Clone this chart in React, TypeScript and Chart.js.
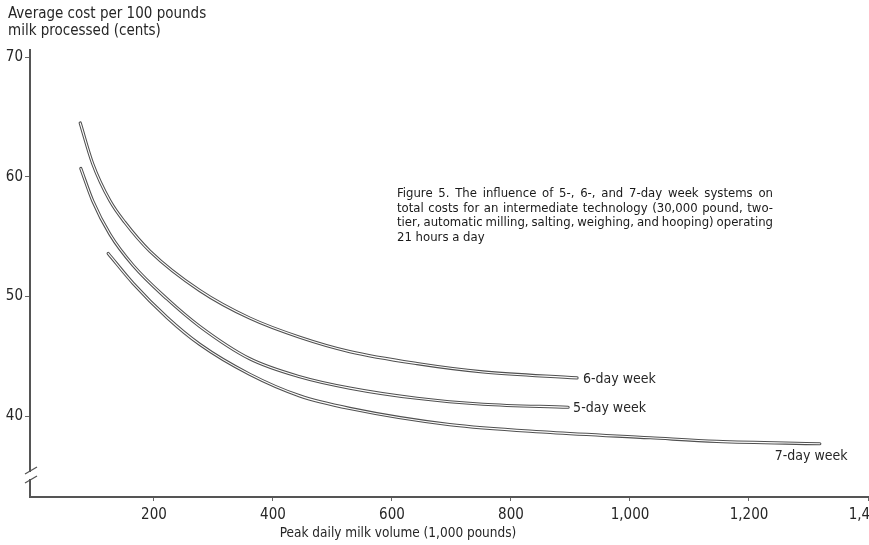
import React, { useEffect, useRef } from "react";
import { Chart, registerables } from "chart.js";
Chart.register(...registerables);

// Peak daily milk volume (1,000 pounds) and average cost (cents per 100 lb)
const volume6 = [76, 97, 126, 151, 193, 277, 361, 445, 529, 642, 753, 911];
const cost6 = [64.5, 61.1, 58.0, 56.2, 53.8, 50.5, 48.2, 46.6, 45.4, 44.4, 43.7, 43.2];

const volume5 = [77, 97, 126, 165, 222, 277, 361, 445, 529, 642, 753, 896];
const cost5 = [60.7, 58.0, 55.2, 52.6, 49.8, 47.5, 44.8, 43.3, 42.35, 41.5, 41.0, 40.75];

const volume7 = [123, 165, 222, 277, 361, 445, 529, 697, 866, 1034, 1146, 1319];
const cost7 = [53.6, 51.1, 48.25, 46.0, 43.5, 41.7, 40.65, 39.3, 38.65, 38.2, 37.9, 37.7];

const seriesLabels = ["6-day week", "5-day week", "7-day week"];
const xTicks = [200, 400, 600, 800, 1000, 1200, 1400];
const yTicks = [40, 50, 60, 70];

const yTitle = ["Average cost per 100 pounds", "milk processed (cents)"];
const xTitle = "Peak daily milk volume (1,000 pounds)";
const figureText = [
  "Figure 5. The influence of 5-, 6-, and 7-day week systems on",
  "total costs for an intermediate technology (30,000 pound, two-",
  "tier, automatic milling, salting, weighing, and hooping) operating",
  "21 hours a day",
];

const FONT = "'Liberation Sans Narrow', 'DejaVu Sans Condensed', 'Roboto Condensed', sans-serif";
const TEXT = "#262626";

export default function App() {
  const ref = useRef<HTMLCanvasElement>(null);

  useEffect(() => {
    const canvas = ref.current;
    if (!canvas) return;
    const toPts = (xs: number[], ys: number[]) => xs.map((x, i) => ({ x, y: ys[i] }));
    const series = [
      { label: seriesLabels[0], data: toPts(volume6, cost6) },
      { label: seriesLabels[1], data: toPts(volume5, cost5) },
      { label: seriesLabels[2], data: toPts(volume7, cost7) },
    ];
    const datasets: any[] = [];
    series.forEach((s) => {
      datasets.push({
        label: s.label,
        data: s.data,
        borderColor: "#505050",
        borderWidth: 3.2,
        pointRadius: 0,
        cubicInterpolationMode: "monotone",
        borderCapStyle: "round",
        order: 2,
      });
      datasets.push({
        label: s.label + " inner",
        data: s.data,
        borderColor: "#ffffff",
        borderWidth: 1.1,
        pointRadius: 0,
        cubicInterpolationMode: "monotone",
        borderCapStyle: "round",
        order: 1,
      });
    });

    const justify = (ctx: any, text: string, x: number, y: number, width: number) => {
      const words = text.split(" ");
      const wordsW = words.reduce((a, w) => a + ctx.measureText(w).width, 0);
      const gap = (width - wordsW) / (words.length - 1);
      let cx = x;
      words.forEach((w) => {
        ctx.fillText(w, cx, y);
        cx += ctx.measureText(w).width + gap;
      });
    };

    const annot = {
      id: "annot",
      afterDraw(chart: any) {
        const ctx = chart.ctx;
        const xs = chart.scales.x;
        const ys = chart.scales.y;
        ctx.save();
        ctx.fillStyle = TEXT;
        ctx.textBaseline = "middle";
        // y title
        ctx.font = "15px " + FONT;
        ctx.textAlign = "left";
        ctx.fillText(yTitle[0], 8, 14);
        ctx.fillText(yTitle[1], 8, 31);
        // x title
        ctx.font = "13.5px " + FONT;
        ctx.textAlign = "center";
        ctx.fillText(xTitle, 398, 533);
        // figure caption (justified)
        ctx.font = "13px " + FONT;
        ctx.fillStyle = "#1a1a1a";
        ctx.textAlign = "left";
        figureText.forEach((t, i) => {
          const y = 194 + i * 14.5;
          if (i < figureText.length - 1) justify(ctx, t, 397, y, 376);
          else ctx.fillText(t, 397, y);
        });
        // series labels
        ctx.fillStyle = TEXT;
        ctx.font = "14px " + FONT;
        const end6 = series[0].data[series[0].data.length - 1];
        const end5 = series[1].data[series[1].data.length - 1];
        const end7 = series[2].data[series[2].data.length - 1];
        ctx.fillText(seriesLabels[0], xs.getPixelForValue(end6.x) + 6, ys.getPixelForValue(end6.y) + 1);
        ctx.fillText(seriesLabels[1], xs.getPixelForValue(end5.x) + 5, ys.getPixelForValue(end5.y) + 1);
        ctx.fillText(seriesLabels[2], xs.getPixelForValue(end7.x) - 45, ys.getPixelForValue(end7.y) + 13);
        // axis break
        const ax = chart.chartArea.left;
        ctx.fillStyle = "#ffffff";
        ctx.fillRect(ax - 3, 472, 6, 7);
        ctx.strokeStyle = "#555";
        ctx.lineWidth = 1.3;
        ctx.beginPath();
        ctx.moveTo(ax - 5, 474);
        ctx.lineTo(ax + 7, 467);
        ctx.moveTo(ax - 5, 483);
        ctx.lineTo(ax + 7, 476);
        ctx.stroke();
        ctx.restore();
      },
    };

    const chart = new Chart(canvas, {
      type: "line",
      data: { datasets },
      options: {
        animation: false,
        responsive: false,
        devicePixelRatio: 1,
        layout: { padding: { top: 50, right: 1, left: 0, bottom: 0 } },
        plugins: { legend: { display: false }, tooltip: { enabled: false } },
        scales: {
          x: {
            type: "linear",
            min: -8.4,
            max: 1400,
            afterBuildTicks: (s: any) => {
              s.ticks = xTicks.map((v) => ({ value: v }));
            },
            afterFit: (s: any) => {
              s.height = 48;
              s.paddingLeft = 0;
              s.paddingRight = 0;
            },
            ticks: {
              autoSkip: false,
              maxRotation: 0,
              padding: 5,
              color: TEXT,
              font: { family: FONT, size: 15 },
              callback: (v: any) => Number(v).toLocaleString("en-US"),
            },
            grid: { drawOnChartArea: false, drawTicks: true, tickLength: 4, color: "#666" },
            border: { display: true, color: "#555", width: 2 },
          },
          y: {
            type: "linear",
            min: 33.25,
            max: 70.6,
            afterBuildTicks: (s: any) => {
              s.ticks = yTicks.map((v) => ({ value: v }));
            },
            afterFit: (s: any) => {
              s.width = 30;
              s.paddingTop = 0;
              s.paddingBottom = 0;
            },
            ticks: {
              padding: 2,
              color: TEXT,
              font: { family: FONT, size: 15 },
            },
            grid: { drawOnChartArea: false, drawTicks: true, tickLength: 5, color: "#666" },
            border: { display: true, color: "#555", width: 2 },
          },
        },
      },
      plugins: [annot],
    });
    return () => chart.destroy();
  }, []);

  return (
    <div style={{ position: "fixed", left: 0, top: 0, width: 869, height: 545, background: "#fff" }}>
      <canvas ref={ref} width={869} height={545} style={{ width: 869, height: 545, display: "block" }} />
    </div>
  );
}
